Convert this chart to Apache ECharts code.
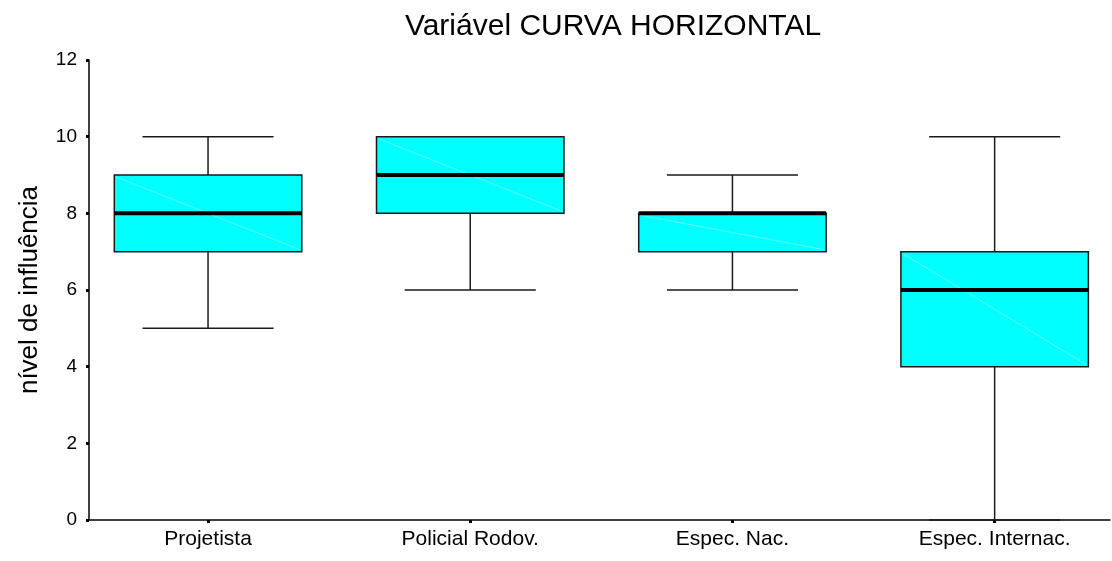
<!DOCTYPE html>
<html>
<head>
<meta charset="utf-8">
<script src="https://cdn.jsdelivr.net/npm/echarts@6/dist/echarts.min.js"></script>
<style>
  html, body { margin: 0; padding: 0; background: #fff; }
  #chart { width: 1112px; height: 561px; }
</style>
</head>
<body>
<div id="chart"></div>
<script>
// Grupos de avaliadores
const categories = ['Projetista', 'Policial Rodov.', 'Espec. Nac.', 'Espec. Internac.'];
// Estatísticas de cada caixa
const minimos  = [5, 6, 6, 0];
const quartil1 = [7, 8, 7, 4];
const medianas = [8, 9, 8, 6];
const quartil3 = [9, 10, 8, 7];
const maximos  = [10, 10, 9, 10];
const yTicks = [0, 2, 4, 6, 8, 10, 12];

const boxData = categories.map((c, i) => [i + 1, minimos[i], quartil1[i], medianas[i], quartil3[i], maximos[i]]);

const FONT = 'Liberation Sans, Arial, Helvetica, sans-serif';

function renderBox(params, api) {
  const x = api.value(0);
  const lo = api.coord([x, api.value(1)]);
  const q1 = api.coord([x, api.value(2)]);
  const md = api.coord([x, api.value(3)]);
  const q3 = api.coord([x, api.value(4)]);
  const hi = api.coord([x, api.value(5)]);
  const boxW = api.size([0.715, 0])[0];
  const capW = api.size([0.5, 0])[0];
  const cx = lo[0];
  const left = cx - boxW / 2;
  const lineStyle = { stroke: '#1a1a1a', lineWidth: 1.5 };
  return {
    type: 'group',
    children: [
      { type: 'line', shape: { x1: cx, y1: hi[1], x2: cx, y2: q3[1] }, style: lineStyle },
      { type: 'line', shape: { x1: cx, y1: q1[1], x2: cx, y2: lo[1] }, style: lineStyle },
      { type: 'line', shape: { x1: cx - capW / 2, y1: hi[1], x2: cx + capW / 2, y2: hi[1] }, style: lineStyle },
      { type: 'line', shape: { x1: cx - capW / 2, y1: lo[1], x2: cx + capW / 2, y2: lo[1] }, style: lineStyle },
      { type: 'rect', shape: { x: left, y: q3[1], width: boxW, height: q1[1] - q3[1] },
        style: { fill: '#00ffff', stroke: '#1a1a1a', lineWidth: 1.5 } },
      // faint diagonal sheen across the fill
      { type: 'line', shape: { x1: left + 2, y1: q3[1] + 2, x2: left + boxW - 2, y2: q1[1] - 2 },
        style: { stroke: 'rgba(255,255,255,0.35)', lineWidth: 1 } },
      { type: 'line', shape: { x1: left, y1: md[1], x2: left + boxW, y2: md[1] },
        style: { stroke: '#000', lineWidth: 4 } }
    ]
  };
}

const chart = echarts.init(document.getElementById('chart'), null, { renderer: 'canvas' });
chart.setOption({
  animation: false,
  backgroundColor: '#fff',
  title: {
    text: 'Variável CURVA HORIZONTAL',
    left: 608, top: 7, textAlign: 'center',
    textStyle: { fontFamily: FONT, fontSize: 30, fontWeight: 'normal', color: '#000' }
  },
  grid: { left: 89, right: 2, top: 60, bottom: 41 },
  xAxis: {
    type: 'value',
    min: 0.546, max: 4.44,
    splitLine: { show: false },
    axisLine: { show: true, lineStyle: { color: '#000', width: 1.5 } },
    axisTick: { show: true, customValues: [1, 2, 3, 4], length: 3, lineStyle: { color: '#000', width: 3 } },
    axisLabel: {
      show: true, customValues: [1, 2, 3, 4], margin: 9,
      formatter: v => categories[Math.round(v) - 1] || '',
      fontFamily: FONT, fontSize: 21, color: '#000'
    }
  },
  yAxis: {
    type: 'value',
    min: 0, max: 12, interval: 2,
    name: 'nível de influência',
    nameLocation: 'middle', nameGap: 46, nameRotate: 90,
    nameTextStyle: { fontFamily: FONT, fontSize: 26, color: '#000' },
    splitLine: { show: false },
    axisLine: { show: true, lineStyle: { color: '#000', width: 1.5 } },
    axisTick: { show: true, length: 3, lineStyle: { color: '#000', width: 3 } },
    axisLabel: {
      margin: 12, fontFamily: FONT, fontSize: 19, color: '#000',
      formatter: v => yTicks.includes(v) ? String(v) : ''
    }
  },
  series: [{
    type: 'custom',
    renderItem: renderBox,
    encode: { x: 0, y: [1, 2, 3, 4, 5] },
    data: boxData,
    clip: false
  }]
});
</script>
</body>
</html>
